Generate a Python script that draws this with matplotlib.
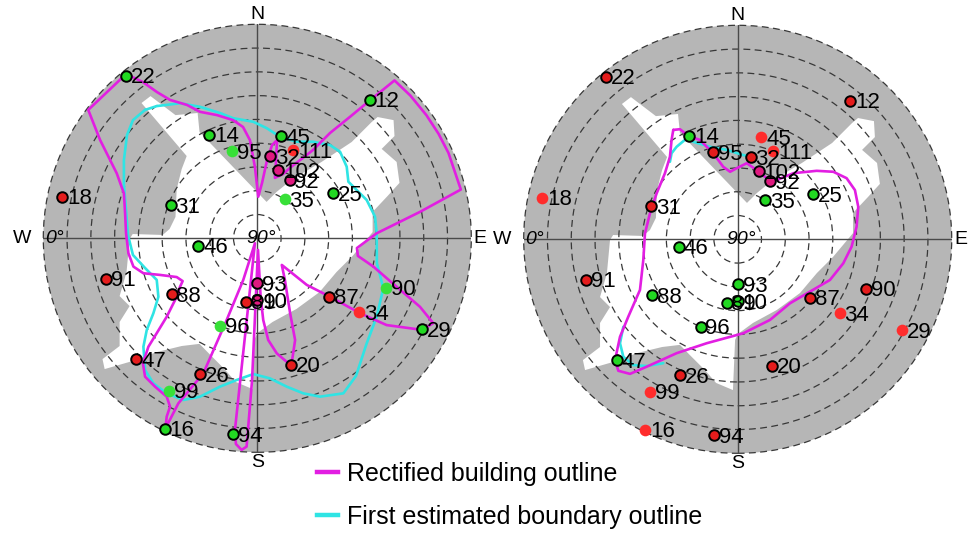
import numpy as np
import matplotlib
matplotlib.use('Agg')
import matplotlib.pyplot as plt
from matplotlib.patches import Circle
from matplotlib.lines import Line2D

plt.rcParams['font.family'] = ['Liberation Sans', 'DejaVu Sans']

# satellites: PRN, azimuth (deg), elevation (deg)
names = ['22', '12', '14', '45', '111', '95', '32', '102', '92', '25', '35', '18', '31', '46', '91',
         '93', '90', '88', '87', '34', '96', '29', '47', '20', '26', '99', '16', '94', '89', '10']
azim = [321, 39, 335, 13, 22, 344, 9, 17, 29, 59, 35, 282, 291, 263, 255,
        180, 111, 237, 129, 126, 203, 119, 225, 165, 203, 210, 206, 187, 190, 180]
elev = [2, 15, 42, 46, 50, 52, 55, 60, 62, 53, 70, 6, 51, 65, 24,
        71, 32, 47, 51, 37, 50, 11, 18, 35, 28, 16, 1, 7, 63, 64]

# g/r = LOS/NLOS with edge, G/R = without edge, p = on outline
state_left = ['g', 'g', 'g', 'g', 'R', 'G', 'p', 'p', 'p', 'g', 'G', 'r', 'g', 'g', 'r',
              'p', 'G', 'r', 'r', 'R', 'G', 'g', 'r', 'r', 'r', 'G', 'g', 'g', 'r', 'p']
state_right = ['r', 'r', 'g', 'R', 'R', 'r', 'r', 'p', 'p', 'g', 'g', 'R', 'r', 'g', 'r',
               'g', 'r', 'g', 'r', 'R', 'g', 'R', 'g', 'r', 'r', 'R', 'R', 'r', 'g', 'g']

# open sky region, east / north offsets in degrees of zenith angle
sky_e = [-48.7, -44.9, -34.4, -25.1, -24.3, 3.9, 8.1, 14.8, 27.0, 39.7, 48.1, 50.6, 57.3, 57.7, 52.3,
         58.6, 59.8, 54.8, 48.5, 48.5, 40.1, 33.3, 26.2, 16.5, 6.4, 0.1, -1.1, -2.0, -9.1, -13.8,
         -20.1, -24.3, -31.8, -42.5, -52.4, -64.2, -65.1, -57.9, -57.9, -53.7, -57.9, -55.0, -53.7,
         -52.4, -39.8, -36.9, -34.4, -33.9, -31.8, -29.7]
sky_n = [56.9, 59.8, 51.8, 52.7, 44.7, 15.3, 19.5, 24.9, 32.1, 40.5, 48.9, 51.0, 49.7, 43.0, 37.6,
         32.1, 23.3, 17.8, 11.1, 2.6, -7.4, -14.2, -22.6, -29.7, -35.2, -39.8, -42.3, -63.4, -60.4,
         -55.0, -48.7, -44.4, -45.3, -47.9, -51.6, -55.0, -50.8, -45.3, -35.2, -28.5, -24.3, -14.2,
         -0.3, 1.8, 1.4, 3.9, 9.0, 20.7, 29.1, 34.6]

# left panel outlines
lmag_e = [-55.2, -71.1, -66.1, -59.1, -56.1, -55.6, -55.2, -54.2, -52.1, -47.9, -40.9, -33.9, -31.4,
          -32.5, -33.9, -38.1, -42.3, -45.8, -48.1, -47.2, -43.0, -38.1, -36.7, -38.1, -38.7,
          -33.2, -22.7, -12.9, -5.9, -1.0,
          -9.4, -9.0, -6.6, -4.5, -2.2, 0.3,
          1.4, 2.5, 4.6, 8.2, 14.3, 15.9, 13.8, 11.6, 10.3,
          20.8, 30.6, 43.2, 54.4, 69.2, 74.0, 68.4, 58.6, 48.8, 42.3, 41.9, 50.2, 68.4, 85.6,
          80.4, 76.2, 71.1, 64.4, 57.7,
          47.6, 39.0, 30.6, 23.4, 18.0, 14.2, 10.8, 7.4, 7.9, 8.3, 6.2, 4.1, 2.0, 0.4,
          -1.0, -3.1, -6.0, -10.2, -16.9, -24.1, -29.6, -36.7, -42.2, -48.1, -55.2]
lmag_n = [69.1, 54.0, 41.3, 27.3, 18.9, 10.5, 2.1, -6.3, -11.9, -14.7, -15.4, -16.3, -18.0,
          -20.4, -24.6, -33.0, -39.9, -45.6, -52.6, -58.2, -62.4, -66.6, -70.8, -75.0, -80.1,
          -69.4, -56.8, -34.4, -17.5, -2.1,
          -80.6, -86.5, -89.0, -87.6, -59.6, -4.9,
          -24.6, -34.4, -42.8, -48.4, -53.6, -42.8, -31.5, -17.5, -11.2,
          -19.6, -24.6, -31.5, -36.5, -38.5, -35.7, -28.8, -20.4, -11.9, -7.4, -4.1, 2.1, 11.1, 20.5,
          35.9, 44.0, 51.8, 60.0, 66.4,
          58.2, 51.1, 44.3, 37.1, 32.9, 30.0, 27.0, 25.4, 32.9, 41.3, 39.2, 32.9, 23.3, 17.5,
          30.0, 41.3, 46.8, 49.7, 51.8, 53.2, 56.1, 58.2, 61.5, 65.7, 69.1]

lcy_e = [-47.2, -42.3, -32.5, -24.1, -15.7, -10.1, -1.7, 4.0, 9.5, 16.6, 23.5, 30.6, 34.8, 37.6,
         38.3, 46.0, 49.5, 50.2, 50.3, 53.0, 50.2, 46.0, 41.5, 36.2, 26.4, 19.3, 12.4, 5.3, -1.7,
         -8.7, -15.7, -24.1, -31.1, -38.1, -43.7, -47.2, -47.9, -46.5, -43.7, -41.6, -42.3, -47.2,
         -52.3, -54.4, -55.2, -56.1, -56.1, -54.8, -52.3, -47.2]
lcy_n = [54.0, 55.6, 56.8, 55.3, 52.7, 50.5, 49.0, 46.3, 42.7, 40.6, 40.6, 39.2, 36.4, 30.1,
         23.8, 16.1, 9.1, 2.2, -10.5, -21.0, -33.0, -44.2, -57.9, -65.2, -66.6, -65.2, -62.4,
         -58.9, -57.1, -59.6, -62.4, -66.6, -68.0, -65.2, -61.0, -55.4, -45.6, -38.6, -31.5,
         -24.6, -17.5, -12.5, -7.0, 1.4, 11.9, 22.4, 32.9, 43.4, 49.7, 54.0]

# right panel outlines
rmag_e = [-27.1, -24.3, -20.6, -15.9, -10.3, -6.1, -3.2, -0.4, 3.8, 8.0, 12.2, 16.4, 23.4, 33.2,
          40.2, 45.8, 49.3, 50.7, 50.0, 47.9, 44.4, 38.8, 30.4, 22.0, 13.6, 2.4, -13.0, -25.7,
          -38.3, -45.3, -50.2, -51.6, -49.5, -46.0, -41.1, -39.7, -39.0, -36.9, -34.1, -30.6,
          -28.5, -27.8, -27.1]
rmag_n = [46.0, 46.3, 43.4, 41.8, 36.2, 30.5, 28.4, 29.9, 32.0, 29.1, 25.7, 24.9, 27.8, 28.8,
          28.4, 25.7, 20.7, 13.7, 5.3, -3.1, -10.1, -17.1, -22.0, -26.9, -33.9, -39.5, -43.7,
          -47.9, -53.6, -56.6, -55.3, -50.8, -41.0, -32.5, -21.3, -8.7, 2.5, 10.9, 19.3, 27.8,
          34.7, 41.8, 46.0]

rcy_e = [-28.5, -27.8, -25.7, -21.4, -18.7, -11.6, -4.6, 2.4, 5.5, np.nan,
         -48.1, -49.5, -48.1, -43.9, -38.3, -31.3]
rcy_n = [32.6, 36.2, 38.9, 42.5, 41.0, 38.9, 37.6, 35.4, 34.7, np.nan,
         -36.8, -43.7, -49.4, -52.9, -53.3, -52.1]

GRAY = '#b6b6b6'
MAG = '#e21ee2'
CYAN = '#2fe4e4'
face = {'g': '#22d822', 'r': '#e41c1c', 'G': '#38e038', 'R': '#ff2c2c', 'p': '#e01a80'}


def sky_xy(az, el):
    zen = 90.0 - np.asarray(el, float)
    a = np.deg2rad(az)
    return zen * np.sin(a), zen * np.cos(a)


def draw_sky(ax, states, mag_e, mag_n, cy_e, cy_n):
    ax.set_xlim(-90, 90)
    ax.set_ylim(-90, 90)
    ax.set_aspect('equal')
    ax.axis('off')
    ax.add_patch(Circle((0, 0), 90, fc=GRAY, ec='none', zorder=0))
    ax.fill(sky_e, sky_n, color='white', lw=0, zorder=1)
    for el in range(0, 90, 10):
        ax.add_patch(Circle((0, 0), 90 - el, fill=False, ec='#383838', lw=0.9,
                            ls=(0, (5.5, 3.5)), zorder=2, clip_on=False))
    ax.axhline(0, color='#4a4a4a', lw=1.0, zorder=2)
    ax.axvline(0, color='#4a4a4a', lw=1.0, zorder=2)

    ax.plot(cy_e, cy_n, color=CYAN, lw=1.9, zorder=3, solid_capstyle='round')
    ax.plot(mag_e, mag_n, color=MAG, lw=1.9, zorder=3, solid_capstyle='round')

    x, y = sky_xy(azim, elev)
    for xi, yi, s, nm in zip(x, y, states, names):
        if s in 'GR':
            ax.plot(xi, yi, 'o', ms=8.4, mfc=face[s], mec='none', zorder=4)
        else:
            ax.plot(xi, yi, 'o', ms=7.6, mfc=face[s], mec='black', mew=1.4, zorder=4)
        ax.annotate(nm, (xi, yi), xytext=(3.5, -1.5), textcoords='offset points',
                    ha='left', va='center', fontsize=16, zorder=5)

    ax.text(0, 94.0, 'N', ha='center', va='center', fontsize=14, clip_on=False)
    ax.text(0, -94.5, 'S', ha='center', va='center', fontsize=14, clip_on=False)
    ax.text(93.8, 0, 'E', ha='center', va='center', fontsize=14, clip_on=False)
    ax.text(-99, 0, 'W', ha='center', va='center', fontsize=14, clip_on=False)
    ax.text(-85.5, 0, '0°', ha='center', va='center', fontsize=14, style='italic', zorder=5)
    ax.text(1.5, 0, '90°', ha='center', va='center', fontsize=14, style='italic', zorder=5)


fig = plt.figure(figsize=(9.72, 5.4), dpi=100)
ax1 = fig.add_axes([0.04455, 0.16241, 0.44033, 0.79259])
ax2 = fig.add_axes([0.53879, 0.16056, 0.44033, 0.79259])

draw_sky(ax1, state_left, lmag_e, lmag_n, lcy_e, lcy_n)
draw_sky(ax2, state_right, rmag_e, rmag_n, rcy_e, rcy_n)

handles = [Line2D([], [], color=MAG, lw=3.2), Line2D([], [], color=CYAN, lw=3.2)]
fig.legend(handles, ['Rectified building outline', 'First estimated boundary outline'],
           loc='upper left', bbox_to_anchor=(0.3258, 0.145), frameon=False, fontsize=18,
           handlelength=0.87, handletextpad=0.34, labelspacing=0.78, borderpad=0,
           borderaxespad=0)

fig.savefig('out.png', dpi=100)
